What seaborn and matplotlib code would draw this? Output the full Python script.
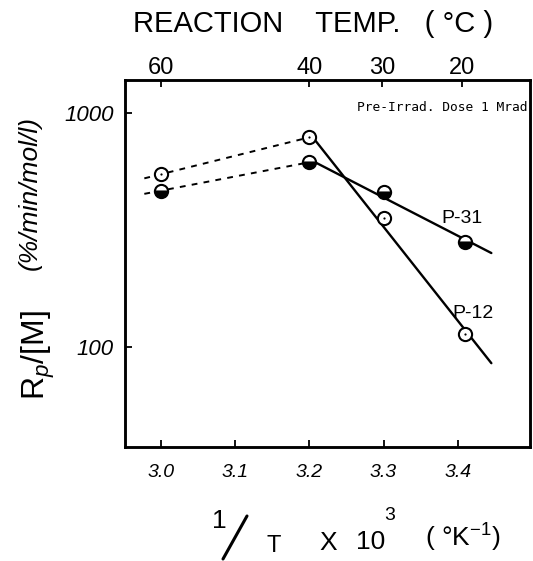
import numpy as np
import pandas as pd
import matplotlib
matplotlib.use("Agg")
import matplotlib.pyplot as plt
from matplotlib.lines import Line2D
import seaborn as sns

# 1/T x 10^3 at reaction temperatures 60, 40, 30, 20 °C
inv_temp = [3.00, 3.20, 3.30, 3.41]
rate_p12 = [548, 789, 355, 113]
rate_p31 = [466, 617, 461, 280]

temp_ticks = [3.00, 3.20, 3.298, 3.405]
temp_labels = ["60", "40", "30", "20"]
x_ticks = [3.0, 3.1, 3.2, 3.3, 3.4]
x_tick_labels = ["3.0", "3.1", "3.2", "3.3", "3.4"]
y_ticks = [100, 1000]
y_tick_labels = ["100", "1000"]

sns.set_style("ticks")
plt.rcParams["font.family"] = ["Liberation Sans", "DejaVu Sans"]
plt.rcParams["mathtext.fontset"] = "custom"
plt.rcParams["mathtext.rm"] = "Liberation Sans"
plt.rcParams["mathtext.it"] = "Liberation Sans:italic"
for key in ["text.color", "axes.labelcolor", "xtick.color", "ytick.color",
            "axes.edgecolor"]:
    plt.rcParams[key] = "black"

W, H = 533, 561
fig = plt.figure(figsize=(W / 100, H / 100), dpi=100)
ax = fig.add_axes([125 / W, 1 - 447 / H, 405 / W, 367 / H])


def log_line(xs, ys, x_from, x_to):
    """Straight line in log space through the given points."""
    k, b = np.polyfit(xs, np.log10(ys), 1)
    xx = np.array([x_from, x_to])
    return xx, 10 ** (k * xx + b)


series = [("P-12", rate_p12), ("P-31", rate_p31)]
for name, rates in series:
    # low-temperature region: fitted straight line
    xx, yy = log_line(inv_temp[1:], rates[1:], 3.20, 3.445)
    sns.lineplot(x=xx, y=yy, ax=ax, color="black", linewidth=1.7,
                 estimator=None, sort=False, zorder=2)
    # high-temperature region: dashed connection
    xx, yy = log_line(inv_temp[:2], rates[:2], 2.978, 3.20)
    sns.lineplot(x=xx, y=yy, ax=ax, color="black", linewidth=1.4,
                 linestyle=(0, (3.0, 3.2)), estimator=None, sort=False, zorder=2)

# P-12: open circles with a centre dot
sns.lineplot(x=inv_temp, y=rate_p12, ax=ax, linestyle="none", marker="o",
             markersize=9.5, markerfacecolor="white", markeredgecolor="black",
             markeredgewidth=1.5, estimator=None, zorder=4)
sns.lineplot(x=inv_temp, y=rate_p12, ax=ax, linestyle="none", marker="o",
             markersize=1.6, markerfacecolor="black", markeredgecolor="black",
             markeredgewidth=0, estimator=None, zorder=5)
# P-31: half-filled circles
sns.lineplot(x=inv_temp, y=rate_p31, ax=ax, linestyle="none", marker="o",
             markersize=9.5, fillstyle="bottom", markerfacecolor="black",
             markerfacecoloralt="white", markeredgecolor="black",
             markeredgewidth=1.5, estimator=None, zorder=4)

ax.set_yscale("log")
ax.set_xlim(2.952, 3.497)
ax.set_ylim(37.2, 1389)
ax.set_xticks(x_ticks)
ax.set_xticklabels(x_tick_labels, fontsize=14, fontstyle="italic")
ax.set_yticks(y_ticks)
ax.set_yticklabels(y_tick_labels, fontsize=16, fontstyle="italic")
ax.yaxis.set_minor_locator(matplotlib.ticker.NullLocator())
ax.tick_params(axis="x", direction="in", length=5, width=1.3, pad=12)
ax.tick_params(axis="y", direction="in", length=5, width=1.3, pad=8)
ax.set_xlabel("")
ax.set_ylabel("")
for sp in ax.spines.values():
    sp.set_linewidth(1.8)
    sp.set_visible(True)

top = ax.twiny()
top.set_xlim(ax.get_xlim())
top.set_xticks(temp_ticks)
top.set_xticklabels(temp_labels, fontsize=17)
top.tick_params(axis="x", direction="in", length=5, width=1.3, pad=1)
for sp in top.spines.values():
    sp.set_linewidth(1.8)

ax.text(0.995, 0.925, "Pre-Irrad. Dose 1 Mrad", transform=ax.transAxes,
        ha="right", va="center", fontsize=9.3, family="DejaVu Sans Mono")
ax.text(3.405, 10 ** (3 - (218 - 113.3) / 233.3), "P-31", fontsize=14,
        ha="center", va="center")
ax.text(3.42, 10 ** (3 - (313 - 113.3) / 233.3), "P-12", fontsize=14,
        ha="center", va="center")

# titles and axis labels
fig.text(313 / W, 1 - 24 / H, "REACTION    TEMP.   ( °C )", fontsize=21,
         ha="center", va="center")
fig.text(38 / W, 1 - 355 / H, r"R$_p$/[M]", fontsize=23, rotation=90,
         ha="center", va="center")
fig.text(30 / W, 1 - 193 / H, "(%/min/mol/l)", fontsize=19, rotation=90,
         fontstyle="italic", ha="center", va="center")

fig.text(219 / W, 1 - 521 / H, "1", fontsize=19, ha="center", va="center")
fig.add_artist(Line2D([223 / W, 247 / W], [1 - 559 / H, 1 - 516 / H],
                      transform=fig.transFigure, color="black", linewidth=2.2))
fig.text(274 / W, 1 - 546 / H, "T", fontsize=17, ha="center", va="center")
fig.text(328 / W, 1 - 543 / H, "X", fontsize=19, ha="center", va="center")
fig.text(371 / W, 1 - 542 / H, "10", fontsize=19, ha="center", va="center")
fig.text(390 / W, 1 - 515 / H, "3", fontsize=14, ha="center", va="center")
fig.text(463 / W, 1 - 538 / H, r"( °K$^{-1}$)", fontsize=19,
         ha="center", va="center")

fig.savefig("out.png", dpi=100)
